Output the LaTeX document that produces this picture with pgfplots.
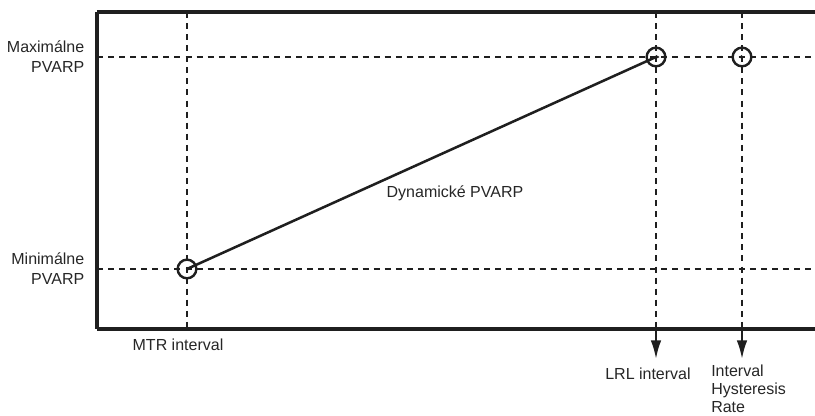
\documentclass[border=0pt]{standalone}
\usepackage{pgfplots}
\pgfplotsset{compat=1.18}
\usetikzlibrary{arrows.meta}
\usepackage{fontspec}
\setmainfont{Liberation Sans}
\tikzset{lbl/.style={font=\fontsize{12}{15}\selectfont, text=black!85}}
\begin{document}
\begin{tikzpicture}
\begin{axis}[
  x=0.75pt, y=0.75pt,
  xmin=97, xmax=815, ymin=87, ymax=404,
  axis x line*=box, axis y line*=left,
  axis line style={line width=2.3pt, color=black!88},
  xtick=\empty, ytick=\empty,
  clip=false,
]
% dashed guide lines
\addplot[dash pattern=on 4.5pt off 3.8pt, line width=1.7pt, black!88] coordinates {(97,359) (815,359)};
\addplot[dash pattern=on 4.5pt off 3.8pt, line width=1.7pt, black!88] coordinates {(97,147) (815,147)};
\addplot[dash pattern=on 4.5pt off 3.8pt, line width=1.7pt, black!88] coordinates {(187,404) (187,87)};
\addplot[dash pattern=on 4.5pt off 3.8pt, line width=1.7pt, black!88] coordinates {(656,404) (656,87)};
\addplot[dash pattern=on 4.5pt off 3.8pt, line width=1.7pt, black!88] coordinates {(742,404) (742,87)};
% arrows below axis
\addplot[line width=1.7pt, black!88, -{Latex[length=14pt,width=8pt]}] coordinates {(656,87) (656,57)};
\addplot[line width=1.7pt, black!88, -{Latex[length=14pt,width=8pt]}] coordinates {(742,87) (742,57)};
% dynamic PVARP line
\addplot[line width=1.9pt, black!88] coordinates {(187,147) (656,359)};
% circles
\addplot[only marks, mark=o, mark size=7pt, mark options={line width=1.8pt, black!88}] coordinates {(187,147) (656,359) (742,359)};
\addplot[only marks, mark=triangle*, mark size=1.4pt, mark options={rotate=-90, black!88}] coordinates {(188,147) (657,359)};
\addplot[only marks, mark=triangle*, mark size=1.4pt, mark options={rotate=90, black!88}] coordinates {(741,359)};
% labels
\node[lbl, align=right, anchor=east] at (axis cs:89,359) {Maximálne\\PVARP};
\node[lbl, align=right, anchor=east] at (axis cs:89,147) {Minimálne\\PVARP};
\node[lbl] at (axis cs:178,71) {MTR interval};
\node[lbl] at (axis cs:648,42) {LRL interval};
\node[lbl, align=left, anchor=north west, inner sep=0pt, font=\fontsize{12}{13.5}\selectfont] at (axis cs:711,51) {Interval\\Hysteresis\\Rate};
\node[lbl] at (axis cs:455,223) {Dynamické PVARP};
\coordinate (bl) at (axis cs:0,0);
\coordinate (tr) at (axis cs:815,416);
\end{axis}
\pgfresetboundingbox
\path[use as bounding box] (bl) rectangle (tr);
\end{tikzpicture}
\end{document}
